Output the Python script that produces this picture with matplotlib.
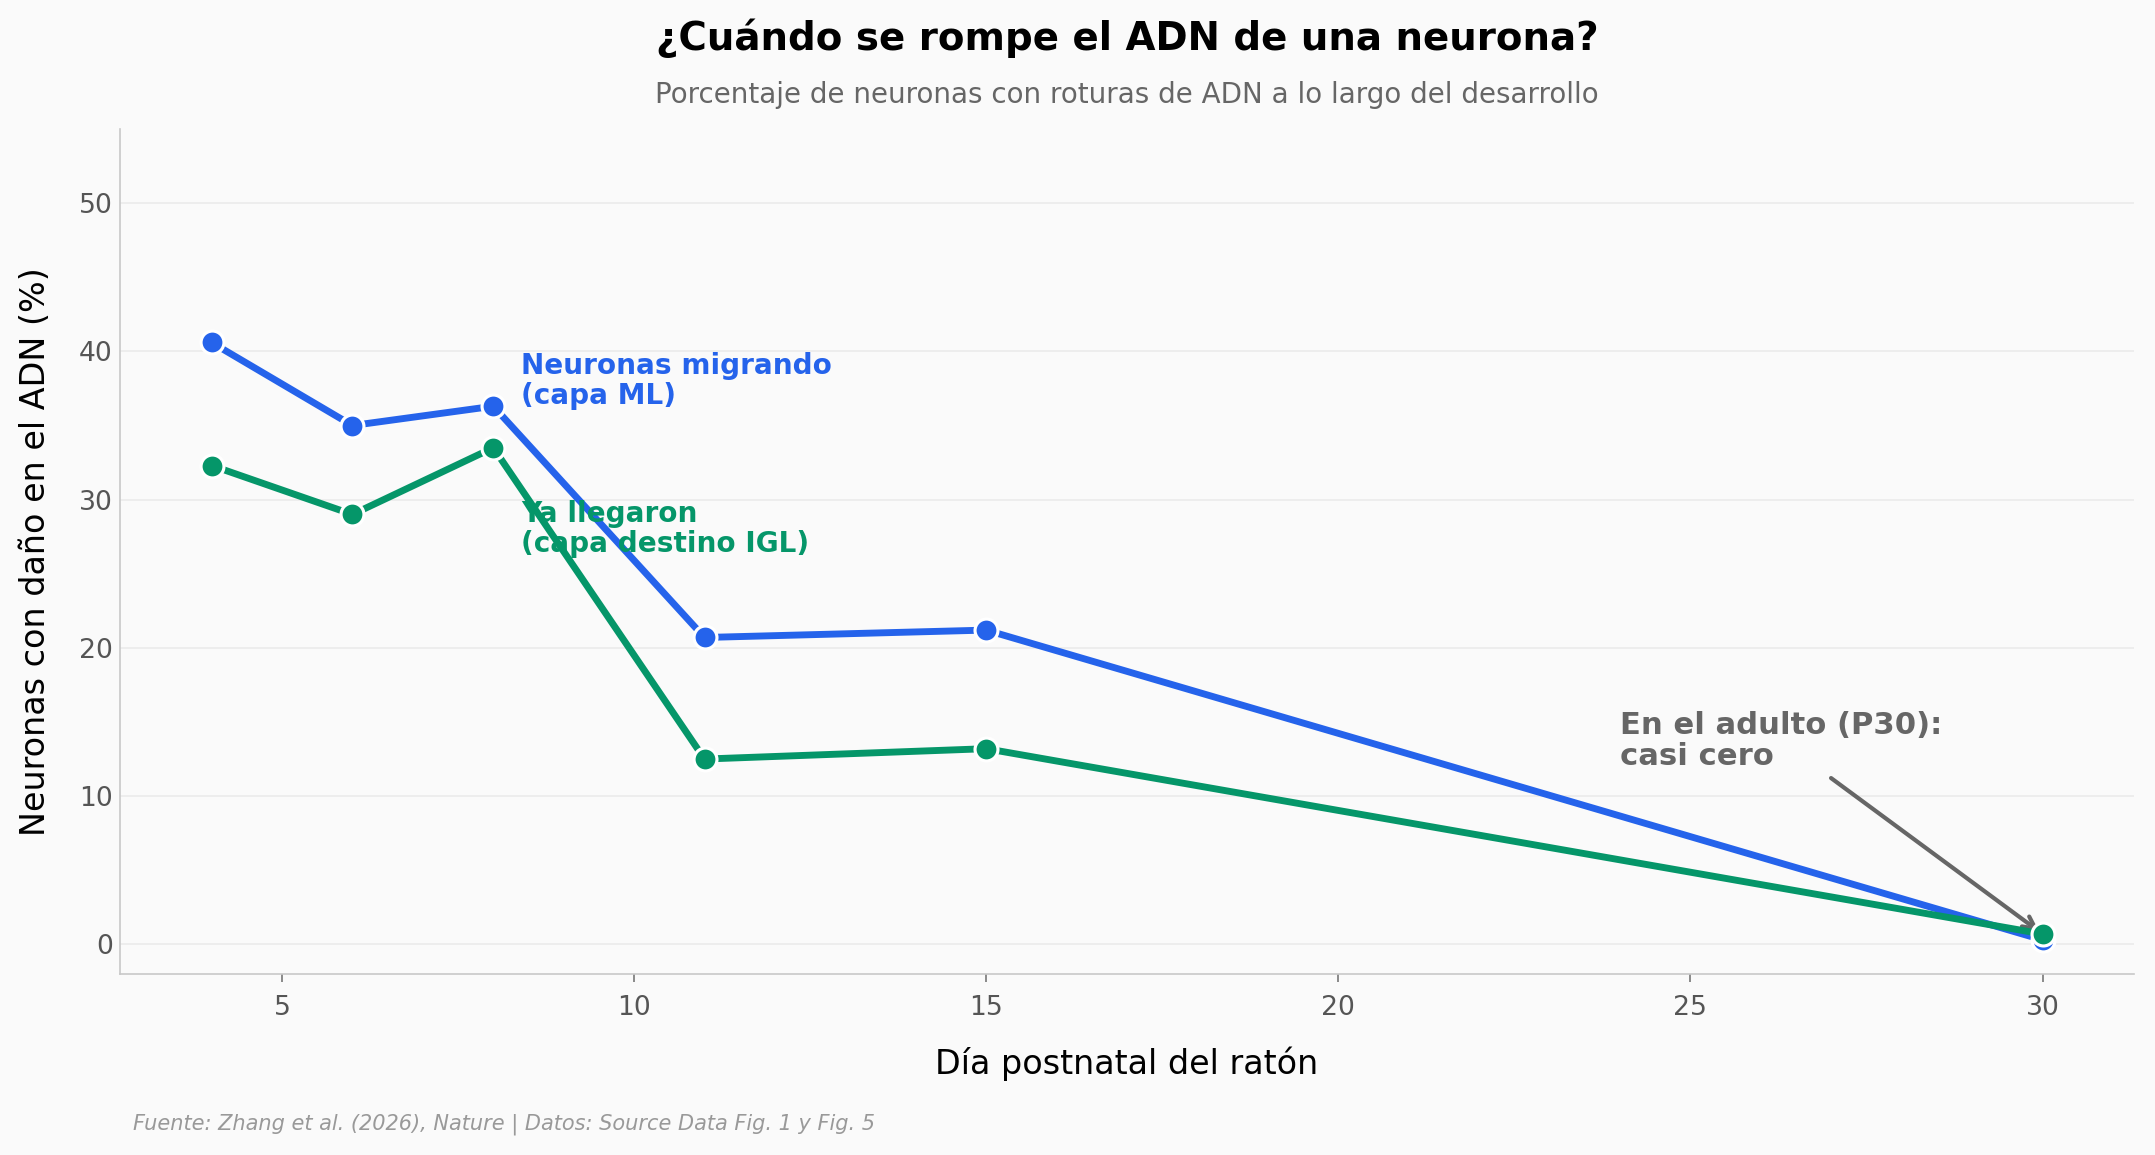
import numpy as np
import matplotlib.pyplot as plt

# data
dias = [4, 6, 8, 11, 15, 30]
migrando = [40.6, 35.0, 36.3, 20.7, 21.2, 0.3]
llegaron = [32.3, 29.0, 33.5, 12.5, 13.2, 0.7]

AZUL = '#2563EB'
VERDE = '#059669'
FONDO = '#FAFAFA'

fig = plt.figure(figsize=(2155/150, 1155/150), dpi=150, facecolor=FONDO)
ax = fig.add_axes([0.0557, 0.1567, 0.9346, 0.7316])
ax.set_facecolor(FONDO)

ax.plot(dias, migrando, color=AZUL, lw=3.3, marker='o', ms=11,
        mec='white', mew=1.5, zorder=3)
ax.plot(dias, llegaron, color=VERDE, lw=3.3, marker='o', ms=11,
        mec='white', mew=1.5, zorder=4)

ax.set_ylim(-2, 55)
ax.set_yticks([0, 10, 20, 30, 40, 50])
ax.set_xticks([5, 10, 15, 20, 25, 30])
ax.grid(axis='y', color='#EBEBEB', lw=0.8)
ax.set_axisbelow(True)

for s in ['top', 'right']:
    ax.spines[s].set_visible(False)
for s in ['left', 'bottom']:
    ax.spines[s].set_color('#C8C8C8')
ax.tick_params(axis='both', labelsize=12.8, labelcolor='#555555', color='#777777')
ax.tick_params(axis='x', length=4, pad=6)
ax.tick_params(axis='y', length=0)

ax.set_xlabel('Día postnatal del ratón', fontsize=16)
ax.set_ylabel('Neuronas con daño en el ADN (%)', fontsize=16)
ax.xaxis.set_label_coords(0.5, -0.086)
ax.yaxis.set_label_coords(-0.034, 0.5)

ax.text(8.4, 38.0, 'Neuronas migrando\n(capa ML)', color=AZUL, fontsize=13.4,
        fontweight='bold', ha='left', va='center', linespacing=1.1)
ax.text(8.4, 28.0, 'Ya llegaron\n(capa destino IGL)', color=VERDE, fontsize=13.4,
        fontweight='bold', ha='left', va='center', linespacing=1.1)

ax.annotate('En el adulto (P30):\ncasi cero', xy=(30, 0.7), xytext=(24, 13.7),
            fontsize=14.7, fontweight='bold', color='#666666', ha='left', va='center',
            linespacing=1.1,
            arrowprops=dict(arrowstyle='->', color='#666666', lw=2))

cx = 0.0557 + 0.9346 / 2
fig.text(cx, 0.967, '¿Cuándo se rompe el ADN de una neurona?', fontsize=18.6,
         fontweight='bold', ha='center', va='center')
fig.text(cx, 0.918, 'Porcentaje de neuronas con roturas de ADN a lo largo del desarrollo',
         fontsize=13.3, color='#666666', ha='center', va='center')
fig.text(0.0617, 0.027, 'Fuente: Zhang et al. (2026), Nature | Datos: Source Data Fig. 1 y Fig. 5',
         fontsize=10, color='#999999', style='italic', ha='left', va='center')

fig.savefig('out.png', dpi=150, facecolor=FONDO)
